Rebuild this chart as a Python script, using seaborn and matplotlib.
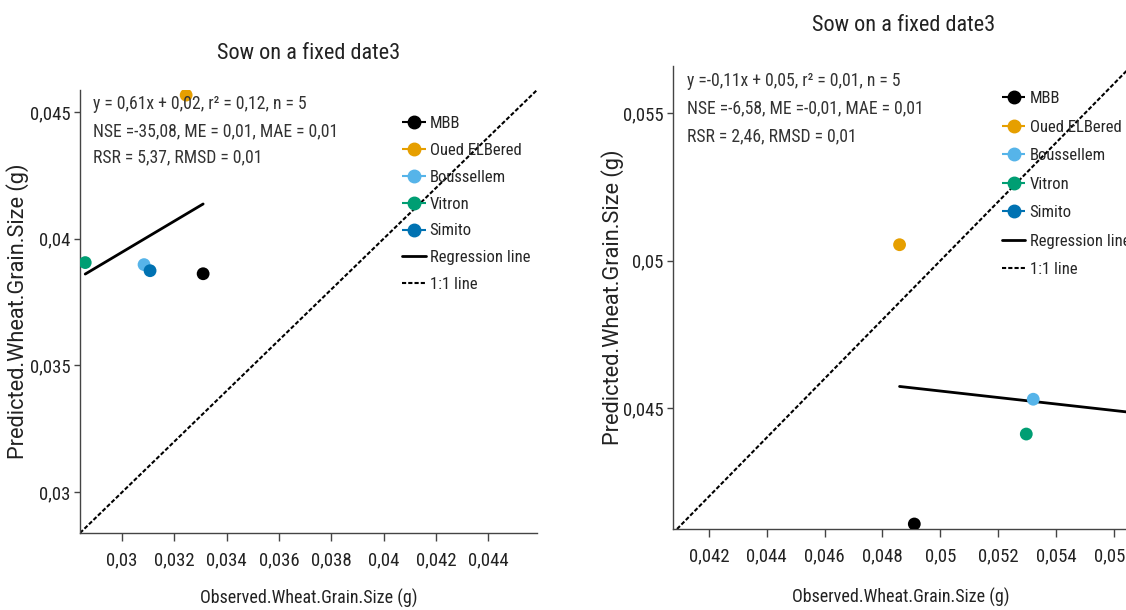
import pandas as pd
import matplotlib
matplotlib.use("Agg")
import matplotlib.pyplot as plt
from matplotlib import font_manager
from matplotlib.lines import Line2D
from matplotlib.ticker import FixedLocator, FuncFormatter
import seaborn as sns

# ---- data -------------------------------------------------------------
cultivars = ["MBB", "Oued ELBered", "Boussellem", "Vitron", "Simito"]
colors = ["#000000", "#E69F00", "#56B4E9", "#009E73", "#0072B2"]

# Sowing date 3, first model
observed_a = [0.03310, 0.03245, 0.03084, 0.02859, 0.03107]
predicted_a = [0.03862, 0.04567, 0.03898, 0.03906, 0.03874]
stats_a = ["y = 0,61x + 0,02, r² = 0,12, n = 5",
           "NSE =-35,08, ME = 0,01, MAE = 0,01",
           "RSR = 5,37, RMSD = 0,01"]
xticks_a = [0.030, 0.032, 0.034, 0.036, 0.038, 0.040, 0.042, 0.044]
yticks_a = [0.030, 0.035, 0.040, 0.045]
xlim_a = (0.02839, 0.04587)
ylim_a = (0.02839, 0.04587)

# Sowing date 3, second model
observed_b = [0.04910, 0.04859, 0.05321, 0.05297, 0.05670]
predicted_b = [0.04107, 0.05054, 0.04530, 0.04412, 0.04570]
stats_b = ["y =-0,11x + 0,05, r² = 0,01, n = 5",
           "NSE =-6,58, ME =-0,01, MAE = 0,01",
           "RSR = 2,46, RMSD = 0,01"]
xticks_b = [0.042, 0.044, 0.046, 0.048, 0.050, 0.052, 0.054, 0.056]
yticks_b = [0.045, 0.050, 0.055]
xlim_b = (0.04076, 0.05690)
ylim_b = (0.04090, 0.05660)

title = "Sow on a fixed date3"
xlabel = "Observed.Wheat.Grain.Size (g)"
ylabel = "Predicted.Wheat.Grain.Size (g)"

# ---- style --------------------------------------------------------------
sns.set_theme(style="white")
available = {f.name for f in font_manager.fontManager.ttflist}
FONT, SCALE = "Open Sans", 0.8
for cand in ["Roboto Condensed", "Liberation Sans Narrow", "Open Sans Condensed"]:
    if cand in available:
        FONT, SCALE = cand, 1.0
        break
plt.rcParams["font.family"] = [FONT, "DejaVu Sans"]
# vertical axis titles use the regular-width face
YFONT, YSIZE = ("Roboto", 15.7) if "Roboto" in available else ("Open Sans", 14.3)

INK = "#222222"
FS_TITLE = 16 * SCALE
FS_LABEL = 13 * SCALE
FS_TICK = 13.5 * SCALE
FS_TEXT = 12.7 * SCALE
FS_LEG = 12 * SCALE


def comma(v, _pos=None):
    return f"{v:g}".replace(".", ",")


def panel(ax, obs, pred, stats, xticks, yticks, xlim, ylim,
          title_pad, title_x, xlabel_pos, ylabel_x, text_x):
    df = pd.DataFrame({"obs": obs, "pred": pred, "cultivar": cultivars})

    ax.axline((0, 0), slope=1, color="black", lw=1.5,
              linestyle=(0, (2, 1)), zorder=1)
    sns.regplot(data=df, x="obs", y="pred", scatter=False, ci=None,
                truncate=True, ax=ax,
                line_kws=dict(color="black", lw=2, zorder=2))
    sns.scatterplot(data=df, x="obs", y="pred", hue="cultivar",
                    hue_order=cultivars, palette=colors, s=85,
                    edgecolor="none", legend=False, ax=ax, zorder=3)

    ax.set_xlim(*xlim)
    ax.set_ylim(*ylim)
    ax.xaxis.set_major_locator(FixedLocator(xticks))
    ax.yaxis.set_major_locator(FixedLocator(yticks))
    ax.xaxis.set_major_formatter(FuncFormatter(comma))
    ax.yaxis.set_major_formatter(FuncFormatter(comma))
    ax.tick_params(axis="both", direction="out", width=1,
                   color="#444444", labelsize=FS_TICK, labelcolor=INK,
                   bottom=True, left=True)
    ax.tick_params(axis="x", length=5.5, pad=8)
    ax.tick_params(axis="y", length=4.5, pad=2.5)
    for side in ("top", "right"):
        ax.spines[side].set_visible(False)
    for side in ("left", "bottom"):
        ax.spines[side].set_color("#444444")
        ax.spines[side].set_linewidth(1)

    ax.set_xlabel(xlabel, fontsize=FS_LABEL, color=INK)
    ax.set_ylabel(ylabel, fontsize=YSIZE, color=INK, family=YFONT)
    ax.xaxis.set_label_coords(*xlabel_pos)
    ax.yaxis.set_label_coords(ylabel_x, 0.5)
    ax.xaxis.label.set_va("center")
    ax.yaxis.label.set_va("center")
    ax.set_title(title, fontsize=FS_TITLE, color=INK, pad=title_pad)
    ax.title.set_x(title_x)

    for i, line in enumerate(stats):
        ax.text(text_x, 0.968 - i * 0.0605, line, transform=ax.transAxes,
                ha="left", va="center", fontsize=FS_TEXT, color="#333333")

    handles = [Line2D([0], [0], color=c, marker="o", markersize=9,
                      lw=1.5, linestyle=(0, (3, 1.5))) for c in colors]
    handles += [Line2D([0], [0], color="black", lw=2),
                Line2D([0], [0], color="black", lw=1.5,
                       linestyle=(0, (2, 1)))]
    labels = cultivars + ["Regression line", "1:1 line"]
    return handles, labels


fig = plt.figure(figsize=(11.26, 6.10), dpi=100)
ax1 = fig.add_axes([80 / 1126, 77 / 610, 457 / 1126, 443 / 610])
ax2 = fig.add_axes([673 / 1126, 81 / 610, 467 / 1126, 463 / 610])

h, l = panel(ax1, observed_a, predicted_a, stats_a, xticks_a, yticks_a,
             xlim_a, ylim_a, 22, 0.5, (0.5, -0.147), -0.136, 0.028)
ax1.legend(h, l, loc="upper left", bbox_to_anchor=(0.705, 0.941),
           frameon=False, fontsize=FS_LEG, handlelength=1.4,
           handletextpad=0.25, labelspacing=0.71, borderpad=0,
           borderaxespad=0)

h, l = panel(ax2, observed_b, predicted_b, stats_b, xticks_b, yticks_b,
             xlim_b, ylim_b, 25, 0.4946, (0.488, -0.147), -0.1306, 0.0295)
ax2.legend(h, l, loc="upper left", bbox_to_anchor=(0.7045, 0.946),
           frameon=False, fontsize=FS_LEG, handlelength=1.4,
           handletextpad=0.25, labelspacing=0.81, borderpad=0,
           borderaxespad=0)

fig.savefig("out.png", dpi=100)
